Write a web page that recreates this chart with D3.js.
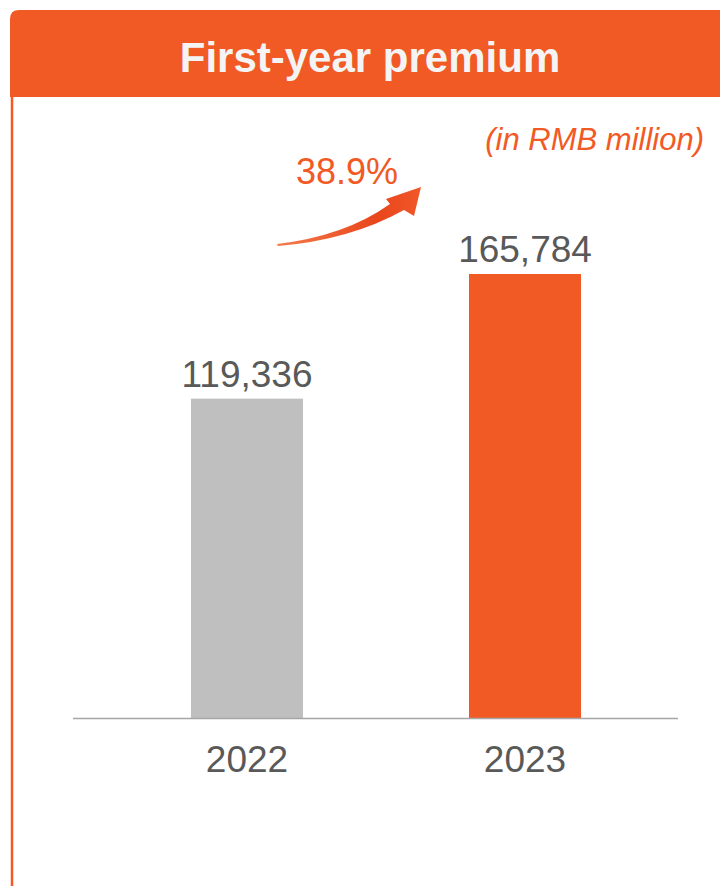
<!DOCTYPE html>
<html>
<head>
<meta charset="utf-8">
<script src="https://cdn.jsdelivr.net/npm/d3@7"></script>
<style>
  body { margin: 0; background: #fff; }
  svg { display: block; font-family: "Liberation Sans", Arial, sans-serif; }
</style>
</head>
<body>
<div id="chart"></div>
<script>
// values
var years = ["2022", "2023"]
var premium = [119336, 165784]
var barColors = ["#BFBFBF", "#F15A24"]
var growthLabel = "38.9%"
var titleText = "First-year premium"
var unitText = "(in RMB million)"

var w = 720, h = 890
var orange = "#F15A24"

var svg = d3.select("#chart")
  .append("svg")
  .attr("width", w)
  .attr("height", h)

// header band with rounded top-left corner
svg.append("path")
  .attr("d", "M10,97 L10,19 Q10,10 19,10 L720,10 L720,97 Z")
  .attr("fill", orange)

// left frame line
svg.append("line")
  .attr("x1", 12).attr("x2", 12)
  .attr("y1", 97).attr("y2", 886)
  .attr("stroke", orange)
  .attr("stroke-width", 2.5)

svg.append("text")
  .attr("x", 370).attr("y", 72)
  .attr("text-anchor", "middle")
  .attr("fill", "#F4F4F4")
  .attr("font-weight", "bold")
  .attr("font-size", 42)
  .text(titleText)

svg.append("text")
  .attr("x", 704).attr("y", 150)
  .attr("text-anchor", "end")
  .attr("fill", orange)
  .attr("font-style", "italic")
  .attr("font-size", 31)
  .text(unitText)

var x = d3.scaleBand().domain(years).range([108, 664]).paddingInner(0.597).paddingOuter(0.2985)
var y = d3.scaleLinear().domain([0, d3.max(premium)]).range([719, 274])

svg.selectAll("rect.bar")
  .data(premium)
  .join("rect")
  .attr("class", "bar")
  .attr("x", function(d, i) { return x(years[i]) })
  .attr("y", function(d) { return y(d) })
  .attr("width", x.bandwidth())
  .attr("height", function(d) { return y(0) - y(d) })
  .attr("fill", function(d, i) { return barColors[i] })

// baseline
svg.append("line")
  .attr("x1", 73).attr("x2", 678)
  .attr("y1", y(0) - 0.5).attr("y2", y(0) - 0.5)
  .attr("stroke", "#A6A6A6")
  .attr("stroke-width", 1.5)

svg.selectAll("text.val")
  .data(premium)
  .join("text")
  .attr("class", "val")
  .attr("x", function(d, i) { return x(years[i]) + x.bandwidth() / 2 })
  .attr("y", function(d) { return y(d) - 12 })
  .attr("text-anchor", "middle")
  .attr("fill", "#595959")
  .attr("font-size", 37)
  .text(function(d) { return d3.format(",")(d) })

var axis = svg.append("g")
  .attr("transform", "translate(0," + y(0) + ")")
  .call(d3.axisBottom(x).tickSize(0).tickPadding(27))
axis.select(".domain").remove()
axis.selectAll("text")
  .attr("fill", "#595959")
  .attr("font-size", 37)
  .attr("font-family", "Liberation Sans, Arial, sans-serif")

// growth arrow
var grad = svg.append("defs").append("linearGradient")
  .attr("id", "arrowGrad")
  .attr("x1", "0%").attr("x2", "100%")
  .attr("y1", "0%").attr("y2", "0%")
grad.append("stop").attr("offset", "0%").attr("stop-color", "#F47A4A")
grad.append("stop").attr("offset", "70%").attr("stop-color", "#E9461C")
grad.append("stop").attr("offset", "100%").attr("stop-color", "#F0582A")

svg.append("path")
  .attr("d", "M277,244 Q345,236 390,204 L386,199 L421,187 L414,216 L404,210 Q350,240 278,246 Z")
  .attr("fill", "url(#arrowGrad)")

svg.append("text")
  .attr("x", 347).attr("y", 184)
  .attr("text-anchor", "middle")
  .attr("fill", orange)
  .attr("font-size", 36)
  .text(growthLabel)
</script>
</body>
</html>
